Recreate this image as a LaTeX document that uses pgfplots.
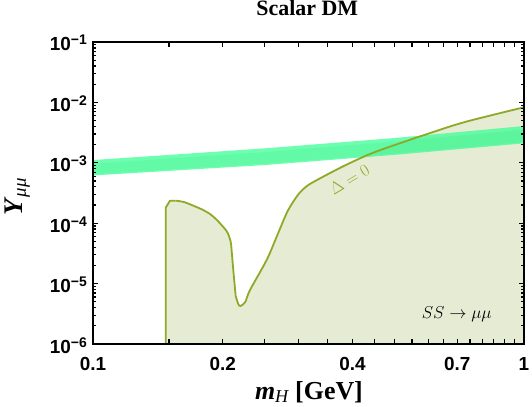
\documentclass[border=0pt]{standalone}
\usepackage{pgfplots}
\pgfplotsset{compat=1.18}
\usepackage{fontspec}
\setmainfont{Liberation Serif}
\newfontfamily\arialfont{Liberation Sans}
\definecolor{curvecol}{RGB}{140,170,40}
\definecolor{fillcol}{RGB}{230,236,212}
\definecolor{bandcol}{RGB}{60,255,150}
\definecolor{bandin}{RGB}{40,215,115}
\newcommand{\ex}[1]{10\raisebox{6bp}{\fontsize{14}{14}\selectfont −#1}}

\begin{document}
\begin{tikzpicture}
\useasboundingbox (0,0) rectangle (532bp,407bp);
\begin{axis}[
  at={(93bp,63bp)}, anchor=south west,
  scale only axis, width=431bp, height=302bp,
  xmode=log, ymode=log,
  xmin=0.1, xmax=1, ymin=1e-6, ymax=1e-1,
  axis on top,
  axis line style={line width=1.9bp},
  tick style={line width=1.3bp, black},
  major tick length=5bp, minor tick length=3.5bp,
  tick align=inside,
  xminorticks=false,
  xtick={0.1,0.2,0.4,0.7,1},
  xticklabels={0.1,0.2,0.4,0.7,1},
  extra x ticks={0.15,0.25,0.3,0.35,0.45,0.5,0.55,0.6,0.65,0.75,0.8,0.85,0.9,0.95},
  extra x tick labels={},
  ytick={1e-6,1e-5,1e-4,1e-3,1e-2,1e-1},
  yticklabels={\ex{6},\ex{5},\ex{4},\ex{3},\ex{2},\ex{1}},
  ticklabel style={font=\fontsize{19}{19}\selectfont\arialfont\bfseries, inner sep=0pt},
  xticklabel style={anchor=base, yshift=-26bp},
  yticklabel style={anchor=base east, xshift=-6bp, yshift=-9bp},
  xlabel={\textbf{\textit{m}}\textsubscript{\itshape H} \textbf{[GeV]}},
  ylabel={\textbf{\textit{Y}}\textsubscript{\itshape μμ}},
  xlabel style={font=\fontsize{26}{26}\selectfont, at={(axis description cs:0.501,-0.183)}, anchor=base},
  ylabel style={font=\fontsize{27}{27}\selectfont, at={(axis description cs:-0.176,0.487)}, anchor=center, rotate=0},
  title={\textbf{Scalar DM}},
  title style={font=\fontsize{22}{22}\selectfont, at={(axis description cs:0.497,1.067)}, anchor=base},
]
% allowed region
\addplot[draw=none, fill=fillcol] coordinates {
(0.1475,1e-6) (0.1475,1.81e-4) (0.1509,2.36e-4) (0.1556,2.36e-4) (0.1627,2.24e-4)
(0.1709,1.95e-4) (0.179,1.69e-4) (0.1869,1.42e-4) (0.1929,1.17e-4) (0.1971,9.95e-5)
(0.2025,8.0e-5) (0.2060,6.62e-5) (0.2090,4.75e-5) (0.2116,1.68e-5) (0.2143,6.3e-6)
(0.2185,4.3e-6) (0.2253,4.9e-6) (0.2313,7.8e-6) (0.2529,2.46e-5) (0.2668,5.98e-5)
(0.2813,1.46e-4) (0.2915,2.27e-4) (0.302,3.22e-4) (0.3136,4.13e-4) (0.3292,5.09e-4) (0.3598,7.13e-4)
(0.3933,9.8e-4) (0.4535,1.53e-3) (0.603,3.08e-3) (0.7336,4.79e-3) (1,8.3e-3) (1,1e-6)
} -- cycle;
% band outer
\addplot[draw=none, fill=bandcol, fill opacity=0.75] coordinates {
(0.1,1.11e-3) (0.252,1.74e-3) (0.5,2.57e-3) (1,4.06e-3)
(1,2.10e-3) (0.5,1.35e-3) (0.252,9.2e-4) (0.1,6.17e-4)
} -- cycle;
% band inner
\addplot[draw=none, fill=bandin, fill opacity=0.15] coordinates {
(0.1,9.66e-4) (0.252,1.51e-3) (0.5,2.24e-3) (1,3.53e-3)
(1,2.2e-3) (0.5,1.42e-3) (0.252,9.66e-4) (0.1,6.48e-4)
} -- cycle;
% boundary curve, in pieces
\addplot[curvecol, line width=1.8bp, line join=round] coordinates {
(0.1475,1e-6) (0.1475,1.81e-4) (0.1509,2.36e-4) (0.1556,2.36e-4)
};
\addplot[curvecol, line width=1.8bp, smooth, tension=0.5] coordinates {
(0.1556,2.36e-4) (0.1627,2.24e-4)
(0.1709,1.95e-4) (0.179,1.69e-4) (0.1869,1.42e-4) (0.1929,1.17e-4) (0.1971,9.95e-5)
(0.2025,8.0e-5) (0.2060,6.62e-5) (0.2090,4.75e-5)
};
\addplot[curvecol, line width=1.8bp, line join=round] coordinates {
(0.2090,4.75e-5) (0.2116,1.68e-5) (0.2143,6.3e-6)
};
\addplot[curvecol, line width=1.8bp, smooth, tension=0.5] coordinates {
(0.2143,6.3e-6)
(0.2185,4.3e-6) (0.2253,4.9e-6) (0.2313,7.8e-6) (0.2529,2.46e-5) (0.2668,5.98e-5)
(0.2813,1.46e-4) (0.2915,2.27e-4) (0.302,3.22e-4) (0.3136,4.13e-4) (0.3292,5.09e-4) (0.3598,7.13e-4)
(0.3933,9.8e-4) (0.4535,1.53e-3) (0.603,3.08e-3) (0.7336,4.79e-3) (1,8.3e-3)
};
\node[curvecol, rotate=31, font=\fontsize{18}{18}\selectfont] at (axis cs:0.3933,5.25e-4) {$\Delta=0$};
\node[font=\fontsize{18.5}{18.5}\selectfont] at (axis cs:0.698,3.14e-6) {$SS\to\mu\mu$};
\end{axis}
\end{tikzpicture}
\end{document}
